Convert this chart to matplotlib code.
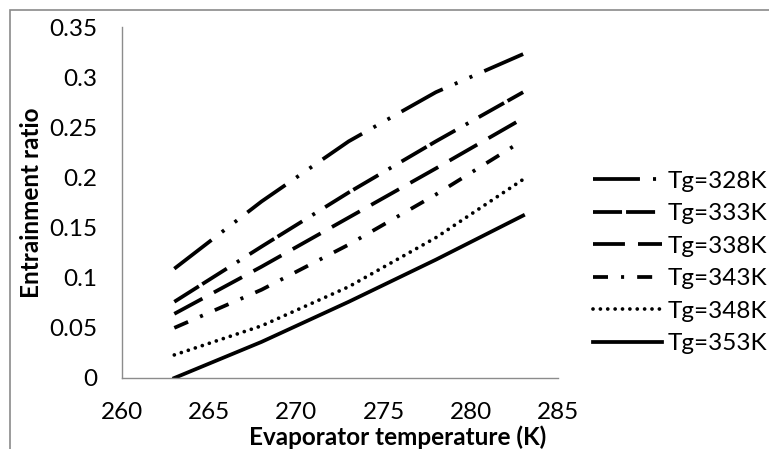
import matplotlib
matplotlib.use("Agg")
import matplotlib.pyplot as plt
from matplotlib.patches import Rectangle

# valores (temperatura do evaporador em K)
evap_temp = [263, 268, 273, 278, 283]

tg328 = [0.109, 0.176, 0.236, 0.285, 0.323]
tg333 = [0.076, 0.131, 0.185, 0.236, 0.285]
tg338 = [0.064, 0.111, 0.160, 0.209, 0.259]
tg343 = [0.050, 0.088, 0.133, 0.183, 0.237]
tg348 = [0.023, 0.052, 0.091, 0.140, 0.198]
tg353 = [0.000, 0.036, 0.076, 0.118, 0.162]

labels = ['Tg=328K', 'Tg=333K', 'Tg=338K', 'Tg=343K', 'Tg=348K', 'Tg=353K']

x_ticks = [260, 265, 270, 275, 280, 285]
y_ticks = [0, 0.05, 0.1, 0.15, 0.2, 0.25, 0.3, 0.35]
y_tick_labels = ['0', '0.05', '0.1', '0.15', '0.2', '0.25', '0.3', '0.35']

plt.rcParams['font.family'] = ['Lato', 'DejaVu Sans']
plt.rcParams['lines.scale_dashes'] = False

fs = 17.5

fig = plt.figure(figsize=(7.69, 4.49), dpi=100)
ax = fig.add_axes([122 / 769, 1 - 378 / 449, 436 / 769, 351 / 449])

# borda cinza da área do gráfico (cortada à direita e embaixo)
fig.patches.append(Rectangle((10 / 769, -0.2), 1.2, 1.2 - 10 / 449,
                             transform=fig.transFigure, fill=False,
                             edgecolor='#8a8a8a', linewidth=1.2))

lw = 2.7
series = [tg328, tg333, tg338, tg343, tg348, tg353]
estilos = [
    dict(dashes=[33.8, 9.4, 2.2, 9.4, 2.2, 9.4]),
    dict(dashes=[20.9, 2.9, 20.9, 8.6, 2.2, 8.6]),
    dict(dashes=[23, 9.4]),
    dict(dashes=[10.8, 9.4, 2.2, 9.4]),
    dict(dashes=[0.01, 5.3], dash_capstyle='round'),
    dict(linestyle='-'),
]

for y, lab, est in zip(series, labels, estilos):
    ax.plot(evap_temp, y, color='black', linewidth=lw, label=lab, **est)

ax.set_xlim(260, 285)
ax.set_ylim(0, 0.35)
ax.set_xticks(x_ticks)
ax.set_yticks(y_ticks)
ax.set_yticklabels(y_tick_labels)
ax.tick_params(axis='both', length=0, labelsize=fs)
ax.tick_params(axis='y', pad=18)
ax.tick_params(axis='x', pad=17)

for s in ['top', 'right']:
    ax.spines[s].set_visible(False)
for s in ['left', 'bottom']:
    ax.spines[s].set_color('#8c8c8c')
    ax.spines[s].set_linewidth(1.0)

fig.text(398 / 769, 1 - 437 / 449, 'Evaporator temperature (K)',
         ha='center', va='center', fontsize=fs, fontweight='bold')
fig.text(32 / 769, 1 - 203 / 449, 'Entrainment ratio', rotation=90,
         ha='center', va='center', fontsize=fs, fontweight='bold')

fig.legend(loc='center left', bbox_to_anchor=(593 / 769, 1 - 262.5 / 449),
           frameon=False, fontsize=fs, handlelength=2.84, handletextpad=0.25,
           labelspacing=0.47, borderpad=0, borderaxespad=0)

fig.savefig('out.png', dpi=100)
